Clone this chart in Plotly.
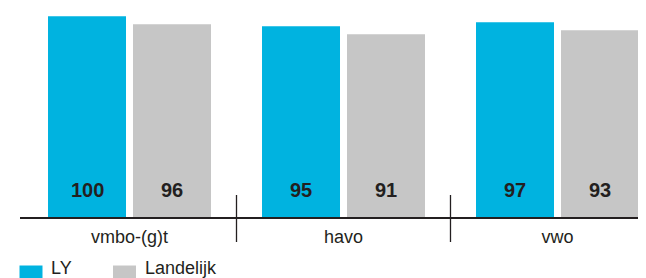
import plotly.graph_objects as go

categories = ["vmbo-(g)t", "havo", "vwo"]
ly_values = [100, 95, 97]
landelijk_values = [96, 91, 93]
series_names = ["LY", "Landelijk"]

BLUE = "#00b3e0"
GRAY = "#c6c6c6"
DARK = "#231f20"
FONT = "Liberation Sans, Arial, Helvetica, sans-serif"

# page body has an 8px margin; figure coordinates are page coordinates minus 8
PAGE_OFF = 8
W, H = 646 - PAGE_OFF, 278 - PAGE_OFF
ML, MR, MT, MB = 20 - PAGE_OFF, 0, 0, 61
XR = [-0.5117, 2.4136]
YR = [0, 104.1]
BW = 0.3645
OFF_LY = -0.3808
OFF_LAND = 0.0164

xs = list(range(len(categories)))

fig = go.Figure()
fig.add_trace(go.Bar(x=xs, y=ly_values, name=series_names[0], marker_color=BLUE,
                     width=BW, offset=OFF_LY, showlegend=False, marker_line_width=0))
fig.add_trace(go.Bar(x=xs, y=landelijk_values, name=series_names[1], marker_color=GRAY,
                     width=BW, offset=OFF_LAND, showlegend=False, marker_line_width=0))

annotations = []
for off, vals in ((OFF_LY, ly_values), (OFF_LAND, landelijk_values)):
    for x, v in zip(xs, vals):
        annotations.append(dict(x=x + off + BW / 2, y=0, xref="x", yref="y", text=str(v),
                                showarrow=False, yanchor="middle", yshift=27,
                                font=dict(family=FONT, size=20, color=DARK, weight="bold")))

plot_h = H - MT - MB
def py(page_y):
    return (H - MB - (page_y - PAGE_OFF)) / plot_h
def px(page_x):
    return (page_x - PAGE_OFF - ML) / (W - ML - MR)

shapes = []
for i in range(len(categories) - 1):
    shapes.append(dict(type="line", xref="x", yref="paper", x0=i + 0.5, x1=i + 0.5,
                       y0=py(195), y1=py(242), line=dict(color=DARK, width=1.3)))

# custom legend
leg = [(series_names[0], BLUE, 19.5, 49), (series_names[1], GRAY, 113, 143)]
for name, col, sx, tx in leg:
    shapes.append(dict(type="rect", xref="paper", yref="paper", x0=px(sx), x1=px(sx + 23),
                       y0=py(265.5), y1=py(288.5), fillcolor=col, line=dict(width=0)))
    annotations.append(dict(xref="paper", yref="paper", x=px(tx), y=py(268), text=name,
                            showarrow=False, xanchor="left", yanchor="middle",
                            font=dict(family=FONT, size=18, color=DARK)))

fig.update_layout(
    width=W, height=H,
    margin=dict(l=ML, r=MR, t=MT, b=MB),
    paper_bgcolor="white", plot_bgcolor="white",
    barmode="overlay",
    showlegend=False,
    xaxis=dict(range=XR, tickvals=xs, ticktext=categories, showgrid=False, zeroline=False,
               showline=True, linecolor=DARK, linewidth=2.2, ticks="",
               ticklabelstandoff=2,
               tickfont=dict(family=FONT, size=18, color=DARK)),
    yaxis=dict(range=YR, visible=False, showgrid=False, zeroline=False),
    annotations=annotations,
    shapes=shapes,
)

fig.write_html("out.html")
